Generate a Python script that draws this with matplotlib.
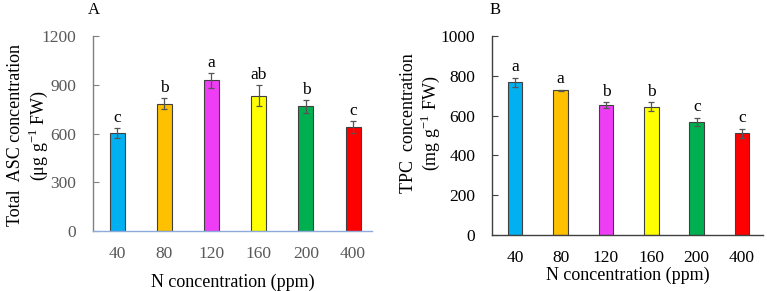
import matplotlib
matplotlib.use("Agg")
import matplotlib.pyplot as plt
import numpy as np

categories = ["40", "80", "120", "160", "200", "400"]
asc_values = [603, 784, 927, 833, 767, 640]
asc_errors = [28, 33, 45, 65, 38, 37]
asc_letters = ["c", "b", "a", "ab", "b", "c"]
tpc_values = [768, 728, 651, 644, 568, 511]
tpc_errors = [22, 3, 15, 22, 22, 24]
tpc_letters = ["a", "a", "b", "b", "c", "c"]
colors = ["#00B0F0", "#FFC000", "#EE3DF5", "#FFFF00", "#00B050", "#FF0000"]

plt.rcParams['font.family'] = ['Liberation Serif', 'DejaVu Serif']
plt.rcParams['mathtext.fontset'] = 'custom'
plt.rcParams['mathtext.rm'] = 'Liberation Serif'

fig = plt.figure(figsize=(7.67, 2.91), dpi=100)
axA = fig.add_axes([93/767, 60/291, 279/767, 195/291])
axB = fig.add_axes([492/767, 56/291, 271/767, 199/291])

def draw(ax, vals, errs, letters, ymax, step, spine_col, xcol, tickcol, xr, xlabpad):
    x = np.arange(len(categories))
    ax.bar(x, vals, width=0.32, color=colors, edgecolor="#404040", linewidth=0.8, zorder=2)
    ax.errorbar(x, vals, yerr=errs, fmt="none", ecolor="#555555", elinewidth=0.9,
                capsize=2.5, capthick=0.9, zorder=3)
    for xi, v, e, l in zip(x, vals, errs, letters):
        ax.text(xi, v + e + ymax*0.012, l, ha="center", va="bottom", fontsize=12.5)
    ax.set_xlim(-0.51, xr)
    ax.set_ylim(0, ymax)
    ax.set_yticks(np.arange(0, ymax + 1, step))
    ax.set_xticks(x)
    ax.set_xticklabels(categories)
    for s in ["top", "right"]:
        ax.spines[s].set_visible(False)
    ax.spines["left"].set_color(spine_col)
    ax.spines["bottom"].set_color(xcol)
    ax.spines["left"].set_linewidth(1.0)
    ax.spines["bottom"].set_linewidth(1.0)
    ax.tick_params(axis="y", direction="in", length=4, color=spine_col, labelsize=12.5,
                   labelcolor=tickcol, pad=12)
    ax.tick_params(axis="x", length=0, labelsize=12.5, labelcolor=tickcol, pad=11)
    ax.set_xlabel("N concentration (ppm)", fontsize=13, labelpad=xlabpad)

draw(axA, asc_values, asc_errors, asc_letters, 1200, 300, "#808080", "#8EA9DB", "#595959", 5.4, 8)
draw(axB, tpc_values, tpc_errors, tpc_letters, 1000, 200, "#404040", "#404040", "#000000", 5.46, 0)

axA.set_ylabel("Total  ASC concentration\n(\u03bcg g$^{\\mathrm{-1}}$ FW)", fontsize=13, linespacing=1.15)
axB.set_ylabel("TPC  concentration\n(mg g$^{\\mathrm{-1}}$ FW)", fontsize=13, linespacing=1.15)
axA.yaxis.label.set_va("center")
axB.yaxis.label.set_va("center")
axA.yaxis.set_label_coords(-0.232, 0.49)
axB.yaxis.set_label_coords(-0.262, 0.56)

fig.text(88/767, 1 - 10/291, "A", fontsize=12, va="center")
fig.text(490/767, 1 - 10/291, "B", fontsize=12, va="center")

fig.savefig("out.png", dpi=100)
